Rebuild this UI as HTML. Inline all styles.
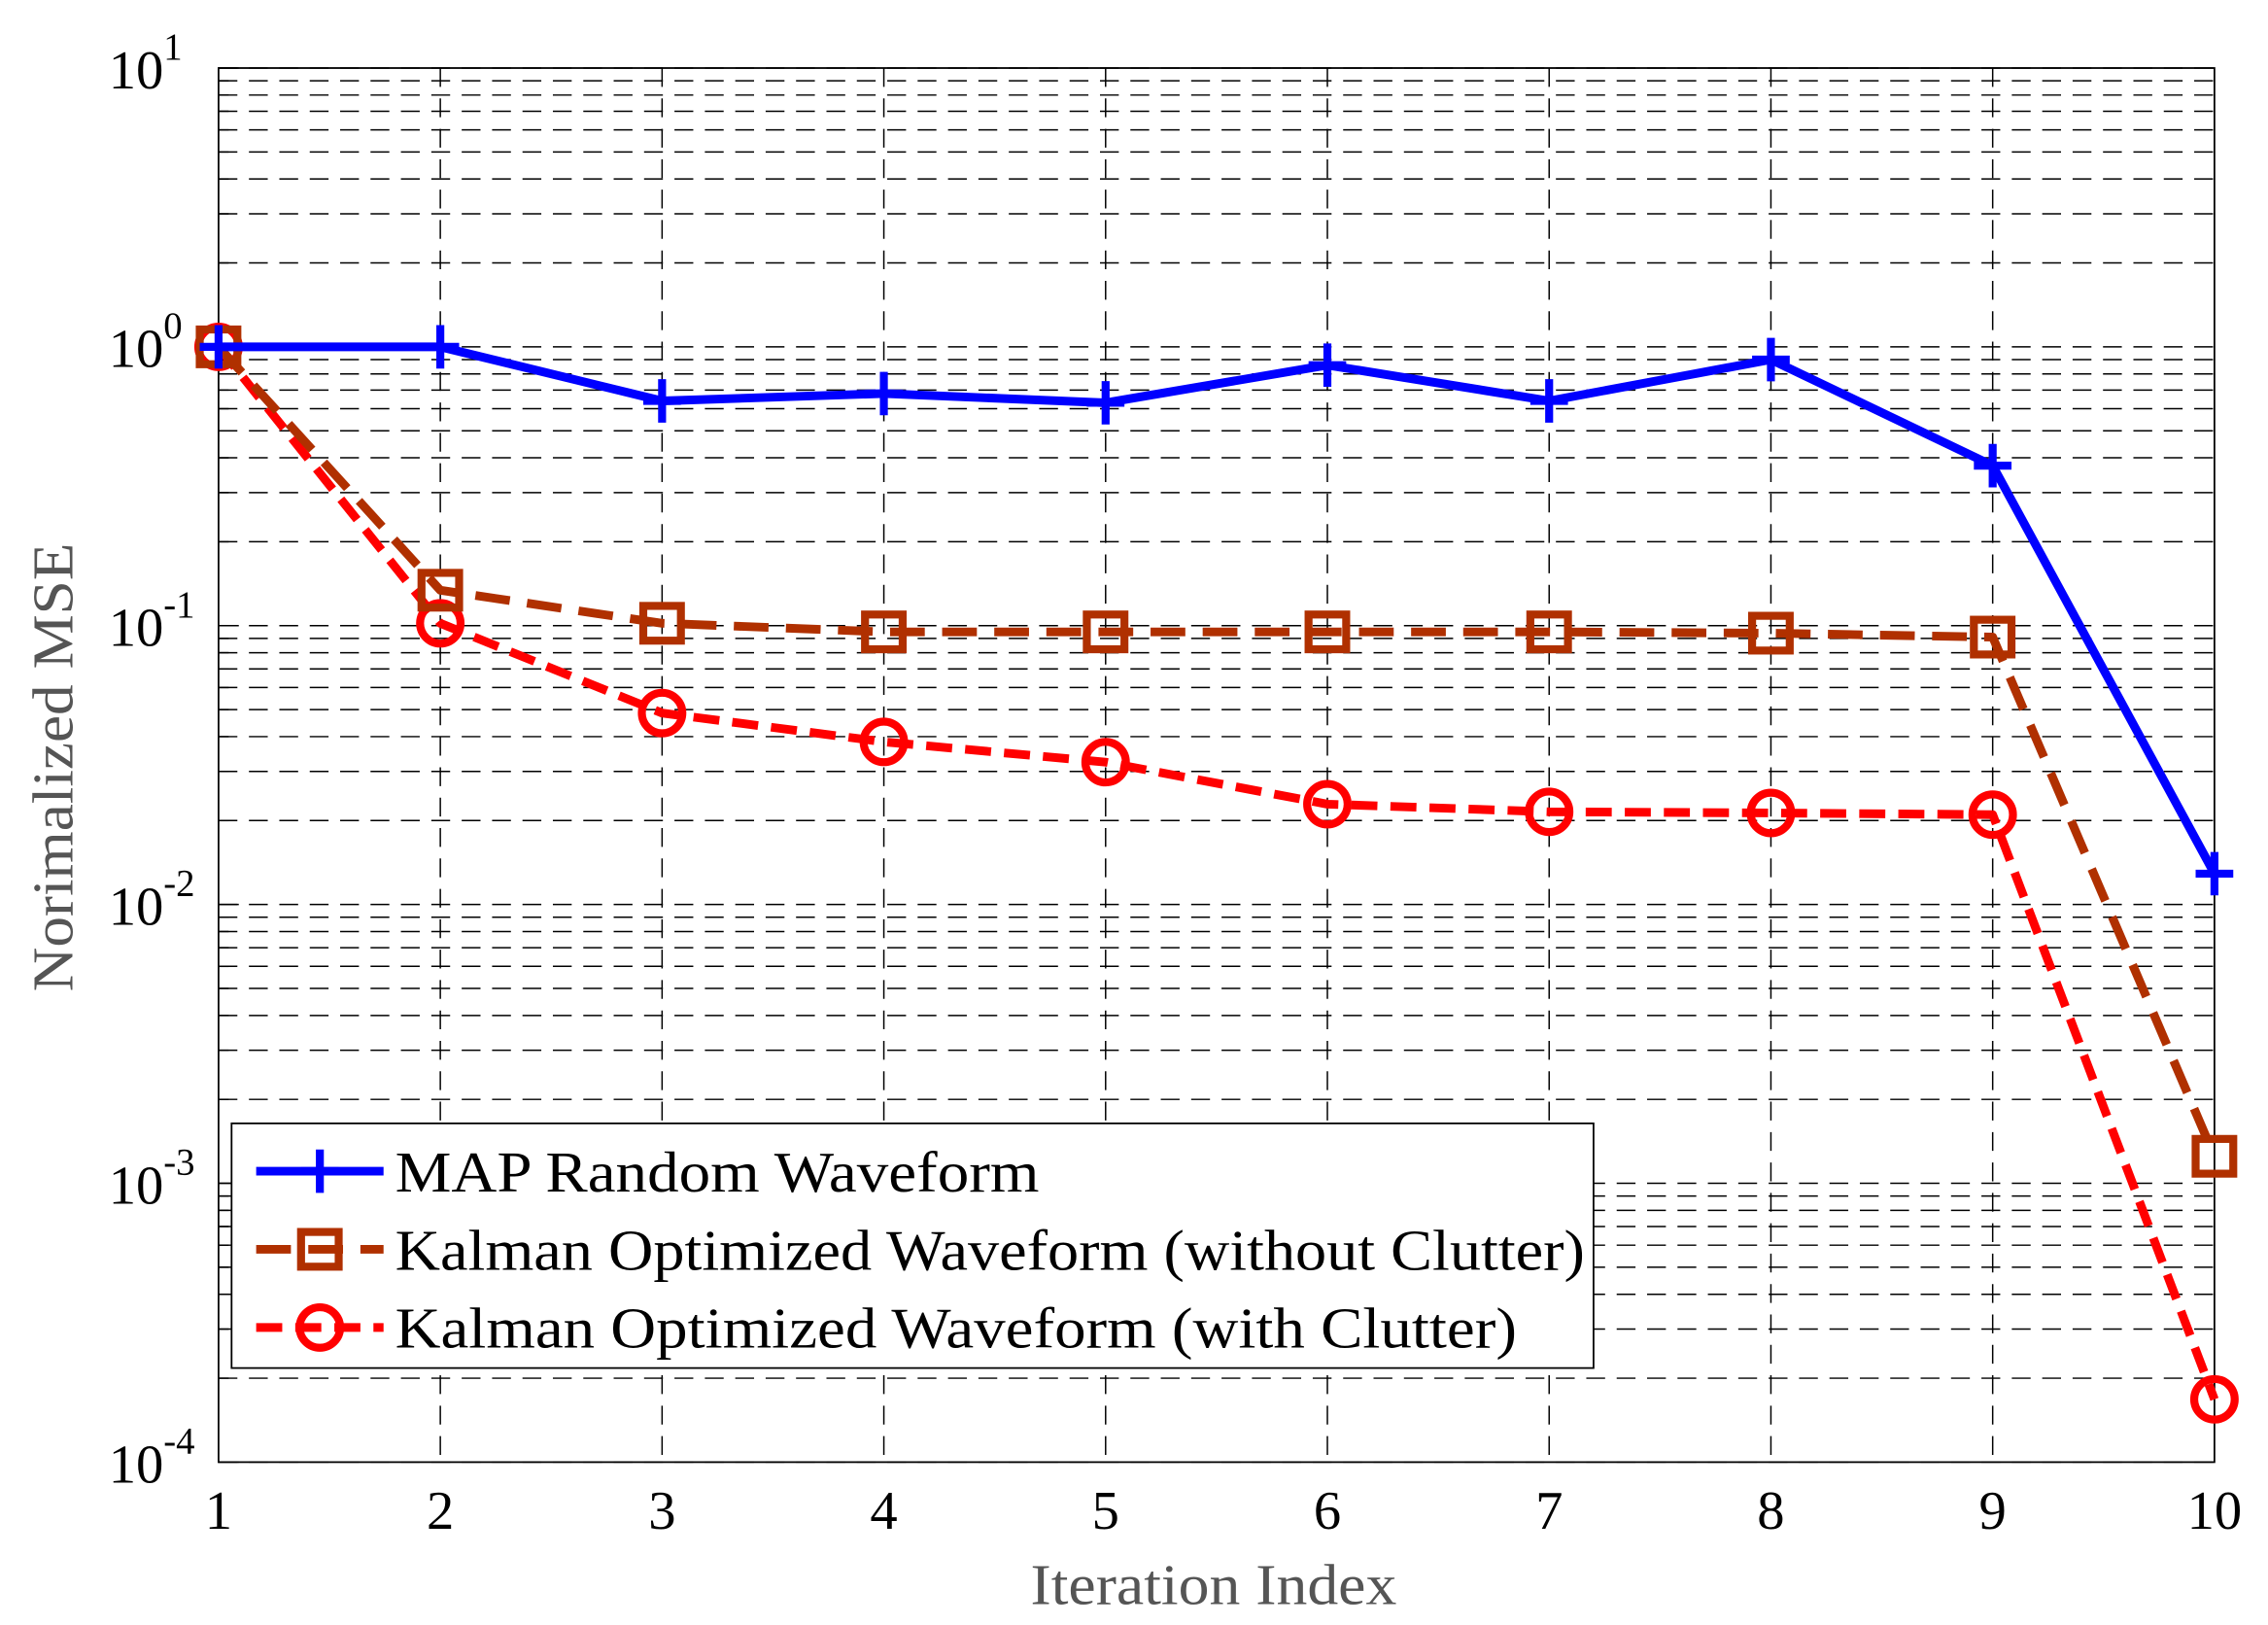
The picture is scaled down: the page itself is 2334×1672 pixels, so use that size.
<!DOCTYPE html>
<html><head><meta charset="utf-8"><style>
html,body{margin:0;padding:0;background:#fff}
svg{display:block}
text{font-family:"Liberation Serif",serif}
</style></head><body>
<svg id="chart" width="2334" height="1672" viewBox="0 0 1567 1122.5" preserveAspectRatio="none" xmlns="http://www.w3.org/2000/svg">
<g id="grid"></g>
<g id="axes"></g>
<g id="series"></g>
<text x="712" y="1108" font-size="40" fill="#555" textLength="253" lengthAdjust="spacingAndGlyphs">Iteration Index</text>
<text transform="translate(50,685) rotate(-90)" font-size="40" fill="#555" textLength="310" lengthAdjust="spacingAndGlyphs">Norimalized MSE</text>
<g id="legend"></g>
</svg>
<script>
const iterations=[1,2,3,4,5,6,7,8,9,10];
const mapRandom=[1,1.0,0.64,0.68,0.63,0.86,0.64,0.9,0.375,0.0129];
const kalmanNoClutter=[1,0.134,0.102,0.095,0.095,0.095,0.095,0.094,0.091,0.00125];
const kalmanClutter=[1,0.102,0.0486,0.0383,0.0324,0.0229,0.0215,0.0213,0.021,0.000168];
const yTickExps=[1,0,-1,-2,-3,-4];
const legendLabels=["MAP Random Waveform","Kalman Optimized Waveform (without Clutter)","Kalman Optimized Waveform  (with Clutter)"];
const legendLengths=[445,822,775];

const NS="http://www.w3.org/2000/svg";
const L=151,R=1530,T=47,B=1010;
const X=v=>L+(v-1)*(R-L)/9;
const Y=v=>T+(1-Math.log10(v))*(B-T)/5;
function mk(tag,attrs,parent){const e=document.createElementNS(NS,tag);for(const k in attrs)e.setAttribute(k,attrs[k]);parent.appendChild(e);return e;}
const grid=document.getElementById('grid'),axes=document.getElementById('axes'),series=document.getElementById('series'),legend=document.getElementById('legend');

for(let e=-4;e<1;e++){for(let m=1;m<=10;m++){const v=m*Math.pow(10,e);if(m==10&&e!=0)continue;const y=Y(v);
 const ln=mk('line',{x1:L,x2:R,y1:y,y2:y,stroke:'#000','stroke-width':1,'stroke-dasharray':'13 8'},grid);
 
 
 if(m==1||m==10){const t1=mk('line',{x1:L,x2:L+14,y1:y,y2:y,stroke:'#000','stroke-width':1},axes);}
 else{const t2=mk('line',{x1:L,x2:L+7,y1:y,y2:y,stroke:'#000','stroke-width':1},axes);}
}}
iterations.forEach(i=>{const x=X(i);
 if(i>1&&i<10){const g=mk('line',{x1:x,x2:x,y1:T,y2:B,stroke:'#000','stroke-width':1,'stroke-dasharray':'13 8'},grid);
 
 }
 const t=mk('text',{x:x,y:B+46,'font-size':38,'text-anchor':'middle',fill:'#000'},axes);t.textContent=i;
 
 
});
const frame=mk('rect',{x:L,y:T,width:R-L,height:B-T,fill:'none',stroke:'#000','stroke-width':1.2},axes);


yTickExps.forEach(e=>{const y=Y(Math.pow(10,e));
 const t=mk('text',{x:75,y:y+14,'font-size':38,fill:'#000'},axes);
 
 
 t.appendChild(document.createTextNode('10'));
 const s=mk('tspan',{dy:-20,'font-size':26},t);s.textContent=e;
});

function marker(kind,x,y,color,g){
 if(kind=='plus'){mk('path',{d:`M${x-13},${y}H${x+13}M${x},${y-15}V${y+15}`,stroke:color,'stroke-width':5.5,fill:'none'},g);}
 else if(kind=='square'){mk('rect',{x:x-13,y:y-12,width:26,height:24,fill:'none',stroke:color,'stroke-width':5.5},g);}
 else{mk('ellipse',{cx:x,cy:y,rx:14,ry:14,fill:'none',stroke:color,'stroke-width':5.5},g);}
}
const defs=[
 {name:'map-random-series',data:mapRandom,color:'#0000ff',dash:'',kind:'plus'},
 {name:'kalman-no-clutter-series',data:kalmanNoClutter,color:'#b03000',dash:'24 12',kind:'square'},
 {name:'kalman-clutter-series',data:kalmanClutter,color:'#ff0000',dash:'18 9',kind:'circle'}
];
defs.slice().reverse().forEach(d=>{
 const g=mk('g',{},series);
 
 
 const pts=d.data.map((v,i)=>X(iterations[i])+','+Y(v)).join(' ');
 const pl=mk('polyline',{points:pts,fill:'none',stroke:d.color,'stroke-width':6,'stroke-dasharray':d.dash,'stroke-linejoin':'round'},g);
 
 
 d.data.forEach((v,i)=>marker(d.kind,X(iterations[i]),Y(v),d.color,g));
});

const box=mk('rect',{x:160,y:776,width:941,height:169,fill:'#fff',stroke:'#000','stroke-width':1.2},legend);


defs.forEach((d,i)=>{const y=809+i*54;
 const g=mk('g',{},legend);
 
 
 mk('line',{x1:177,x2:265,y1:y,y2:y,stroke:d.color,'stroke-width':6,'stroke-dasharray':d.dash},g);
 marker(d.kind,221,y,d.color,g);
 const t=mk('text',{x:273,y:y+14,'font-size':40,fill:'#000',textLength:legendLengths[i],lengthAdjust:'spacingAndGlyphs'},g);t.textContent=legendLabels[i];
});
</script>
</body></html>
